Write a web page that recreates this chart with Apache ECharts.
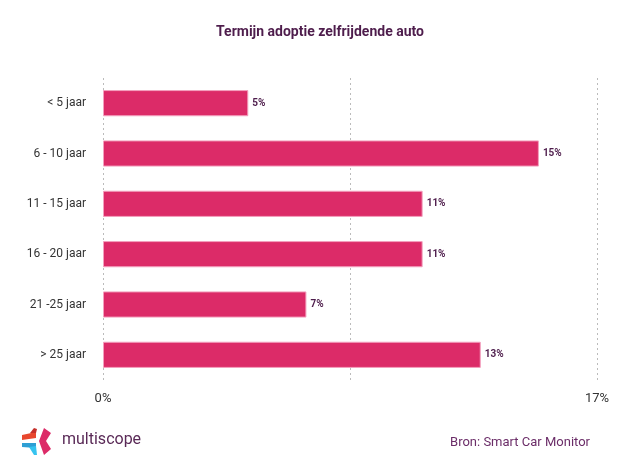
<!DOCTYPE html>
<html>
<head>
<meta charset="utf-8">
<script src="https://cdn.jsdelivr.net/npm/echarts@6/dist/echarts.min.js"></script>
<style>html,body{margin:0;padding:0;background:#fff}#c{width:640px;height:476px}</style>
</head>
<body>
<div id="c"></div>
<script>
var categories = ['< 5 jaar', '6 - 10 jaar', '11 - 15 jaar', '16 - 20 jaar', '21 -25 jaar', '> 25 jaar'];
var values = [5, 15, 11, 11, 7, 13];
var axisMin = 0, axisMax = 17, axisInterval = 8.5;
var tickLabels = ['0%', '17%'];

var chart = echarts.init(document.getElementById('c'));
chart.setOption({
  animation: false,
  backgroundColor: '#fff',
  title: {
    text: 'Termijn adoptie zelfrijdende auto',
    left: 'center', top: 20,
    textStyle: {fontFamily: 'Roboto', fontSize: 14, fontWeight: 'bold', color: '#4e1d4c'}
  },
  grid: {left: 103, right: 43, top: 78, bottom: 96, containLabel: false},
  xAxis: {
    type: 'value', min: axisMin, max: axisMax, interval: axisInterval,
    axisLine: {show: false}, axisTick: {show: false},
    splitLine: {show: true, lineStyle: {type: [2, 3], color: '#bbbbbb', width: 1}},
    axisLabel: {
      margin: 12, fontFamily: 'Roboto', fontSize: 13, color: '#333',
      formatter: function (v) {
        if (v === axisMin) return tickLabels[0];
        if (v === axisMax) return tickLabels[1];
        return '';
      }
    }
  },
  yAxis: {
    type: 'category', data: categories, inverse: true,
    axisLine: {show: false}, axisTick: {show: false}, splitLine: {show: false},
    axisLabel: {margin: 17, fontFamily: 'Roboto', fontSize: 12, color: '#333'}
  },
  series: [{
    type: 'bar', data: values, barCategoryGap: '48%',
    itemStyle: {color: '#dc2b68', borderColor: '#f3a0be', borderWidth: 1},
    label: {
      show: true, position: 'right', distance: 4,
      formatter: '{c}%', fontFamily: 'Roboto', fontSize: 10, fontWeight: 'bold', color: '#4e1d4c'
    }
  }],
  graphic: [
    {type: 'polygon', shape: {points: [[22,435],[36,432],[36,438],[22,440]]}, style: {fill: '#e8472e'}},
    {type: 'polygon', shape: {points: [[30,433],[34,428],[37,429],[36,433]]}, style: {fill: '#c52f2a'}},
    {type: 'polygon', shape: {points: [[44,428],[51,433],[46,441],[51,449],[44,455],[39,441]]}, style: {fill: '#dc2b68'}},
    {type: 'polygon', shape: {points: [[22,443],[36,443],[36,448],[22,447]]}, style: {fill: '#2e9fd4'}},
    {type: 'polygon', shape: {points: [[29,447],[36,446],[37,455],[34,455]]}, style: {fill: '#36c3ef'}},
    {type: 'text', left: 62, top: 432, style: {text: 'multiscope', fontFamily: 'Roboto', fontSize: 16, fill: '#5a2a57'}},
    {type: 'text', right: 50, top: 436, style: {text: 'Bron: Smart Car Monitor', fontFamily: 'Roboto', fontSize: 13, fill: '#6b2d68'}}
  ]
});
</script>
</body>
</html>
